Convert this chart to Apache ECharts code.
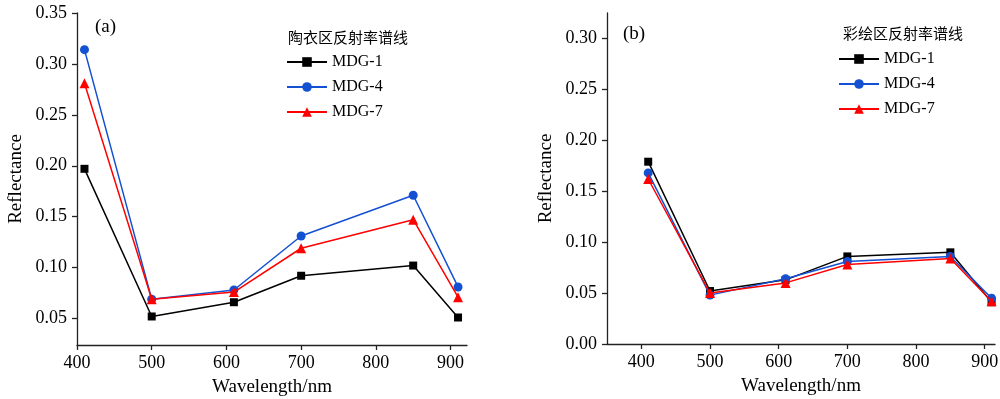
<!DOCTYPE html>
<html><head><meta charset="utf-8">
<script src="https://cdn.jsdelivr.net/npm/echarts@6/dist/echarts.min.js"></script>
<style>html,body{margin:0;padding:0;background:#fff}#c{width:1000px;height:399px}</style>
</head><body><div id="c"></div>
<script>
const wavelengths = [410, 500, 610, 700, 850, 910];
const seriesNames = ['MDG-1', 'MDG-4', 'MDG-7'];
// Panel (a) 陶衣区
const a_MDG1 = [0.197, 0.052, 0.066, 0.092, 0.102, 0.051];
const a_MDG4 = [0.314, 0.069, 0.078, 0.131, 0.171, 0.081];
const a_MDG7 = [0.281, 0.069, 0.076, 0.119, 0.147, 0.071];
// Panel (b) 彩绘区
const b_MDG1 = [0.179, 0.052, 0.063, 0.086, 0.090, 0.041];
const b_MDG4 = [0.168, 0.048, 0.064, 0.081, 0.086, 0.045];
const b_MDG7 = [0.162, 0.050, 0.060, 0.078, 0.084, 0.042];
const xTicks = [400, 500, 600, 700, 800, 900];
const yTicksA = [0.05, 0.10, 0.15, 0.20, 0.25, 0.30, 0.35];
const yTicksB = [0.00, 0.05, 0.10, 0.15, 0.20, 0.25, 0.30];
const legendTitleA = '陶衣区反射率谱线';
const legendTitleB = '彩绘区反射率谱线';

const serif = '"Liberation Serif","Times New Roman",serif';
const colors = ['#000000', '#1450d2', '#ff0000'];
const symbols = ['rect', 'circle', 'triangle'];
const symSizes = [8, 9, 10];
const pair = arr => wavelengths.map((w, i) => [w, arr[i]]);

function xAxis(gi, min, max) {
  return {
    type: 'value', gridIndex: gi, min: min, max: max,
    name: 'Wavelength/nm', nameLocation: 'middle', nameGap: 33,
    nameTextStyle: {fontFamily: serif, fontSize: 19, color: '#000'},
    axisLine: {show: true, onZero: false, lineStyle: {color: '#222', width: 1.3}},
    axisTick: {show: true, inside: false, length: 5, customValues: xTicks, lineStyle: {color: '#222', width: 1.3}},
    axisLabel: {margin: 9, customValues: xTicks, fontFamily: serif, fontSize: 18, color: '#000'},
    splitLine: {show: false}
  };
}
function yAxis(gi, min, max, ticks) {
  return {
    type: 'value', gridIndex: gi, min: min, max: max,
    name: 'Reflectance', nameLocation: 'middle', nameGap: 51,
    nameTextStyle: {fontFamily: serif, fontSize: 19, color: '#000'},
    axisLine: {show: true, onZero: false, lineStyle: {color: '#222', width: 1.3}},
    axisTick: {show: true, inside: false, length: 5, customValues: ticks, lineStyle: {color: '#222', width: 1.3}},
    axisLabel: {margin: 10, customValues: ticks, fontFamily: serif, fontSize: 18, color: '#000',
      formatter: v => v.toFixed(2)},
    splitLine: {show: false}
  };
}
function mkSeries(gi, arrs) {
  return arrs.map((arr, k) => ({
    type: 'line', name: seriesNames[k], xAxisIndex: gi, yAxisIndex: gi,
    data: pair(arr), symbol: symbols[k], symbolSize: symSizes[k],
    showAllSymbol: true,
    lineStyle: {color: colors[k], width: 1.5},
    itemStyle: {color: colors[k]},
    z: 2 + k, animation: false
  }));
}
function legend(left, top) {
  return {
    left: left, top: top, orient: 'vertical', padding: 0, itemWidth: 40, itemHeight: 12, itemGap: 9,
    selectedMode: false, data: seriesNames,
    textStyle: {fontFamily: serif, fontSize: 16, color: '#000', lineHeight: 14}
  };
}

const chart = echarts.init(document.getElementById('c'));
chart.setOption({
  animation: false,
  grid: [
    {left: 77, right: 533, top: 13, bottom: 54, outerBoundsMode: 'none', containLabel: false},
    {left: 607, right: 5, top: 13, bottom: 55, outerBoundsMode: 'none', containLabel: false}
  ],
  xAxis: [xAxis(0, 400, 922), xAxis(1, 350, 915)],
  yAxis: [yAxis(0, 0.024, 0.35, yTicksA), yAxis(1, 0, 0.325, yTicksB)],
  legend: [legend(286, 54), legend(838, 51)],
  series: [...mkSeries(0, [a_MDG1, a_MDG4, a_MDG7]), ...mkSeries(1, [b_MDG1, b_MDG4, b_MDG7])],
  graphic: [
    {type: 'text', left: 95, top: 18, style: {text: '(a)', font: '19px ' + serif, fill: '#000'}},
    {type: 'text', left: 623, top: 25, style: {text: '(b)', font: '19px ' + serif, fill: '#000'}},
    {type: 'text', left: 288, top: 30, style: {text: legendTitleA, font: '15px "Noto Sans CJK SC"', fill: '#000'}},
    {type: 'text', left: 843, top: 26, style: {text: legendTitleB, font: '15px "Noto Sans CJK SC"', fill: '#000'}}
  ]
});
</script></body></html>
